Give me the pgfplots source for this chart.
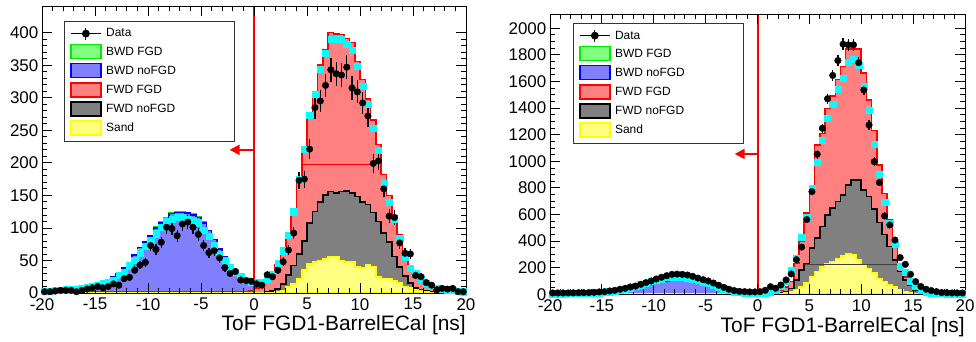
\documentclass[border=0pt]{standalone}
\usepackage{fontspec}
\setmainfont{Liberation Sans}
\usepackage{pgfplots}
\usepackage{pgfplotstable}
\pgfplotsset{compat=1.18}
\usetikzlibrary{arrows.meta}

\definecolor{fillred}{RGB}{255,128,128}
\definecolor{fillblue}{RGB}{128,128,255}
\definecolor{fillgreen}{RGB}{128,255,128}
\definecolor{fillgray}{RGB}{128,128,128}
\definecolor{fillyellow}{RGB}{255,255,128}
\definecolor{rootcyan}{RGB}{0,255,255}
\definecolor{rootgreen}{RGB}{0,235,0}
\definecolor{rootyellow}{RGB}{255,255,0}

% x = left bin edge; ys,yg,yr,yb,yt = stacked tops (Sand, FWD noFGD, FWD FGD, BWD noFGD, BWD FGD)
% cy = cyan markers, d = data, e = data error
\pgfplotstableread{
x ys yg yr yb yt cy d e
-20.0 1 1 2 3 3 3 2 1.4
-19.5 1 1 2 3 3 3 2 1.4
-19.0 1 1 2 4 4 4 3 1.7
-18.5 1 1 2 4 4 4 4 2
-18.0 1 1 2 5 5 5 4 2
-17.5 1 1 2 5 5 5 4 2
-17.0 1 1 2 6 6 6 2 1.4
-16.5 1 1 2 7 7 7 4 2
-16.0 1 1 2 8 8 9 6 2.4
-15.5 1 1 2 10 10 10 8 2.8
-15.0 1 1 2 13 13 12 10 3.2
-14.5 1 1 2 16 16 15 8 2.8
-14.0 1 1 2 19 19 17 10 3.2
-13.5 1 1 2 25 25 20 14 3.7
-13.0 1 1 2 30 30 27 12 3.5
-12.5 1 1 2 38 38 32 22 4.7
-12.0 1 1 2 47 47 42 24 4.9
-11.5 1 1 2 58 58 50 35 5.9
-11.0 1 1 2 70 70 62 43 6.6
-10.5 1 1 2 78 78 72 47 6.9
-10.0 1 1 2 88 88 81 73 8.5
-9.5 1 1 2 100 101 91 67 8.2
-9.0 1 1 2 108 109 101 78 8.8
-8.5 1 1 2 114 115 110 101 10
-8.0 1 1 2 122 123 114 99 9.9
-7.5 1 1 2 124 125 116 88 9.4
-7.0 1 1 2 124 125 117 106 10.3
-6.5 1 1 2 123 124 114 109 10.4
-6.0 1 1 2 120 121 112 101 10
-5.5 1 1 2 116 117 108 90 9.5
-5.0 1 1 2 108 109 97 73 8.5
-4.5 1 1 2 96 96 87 62 7.9
-4.0 1 1 2 82 82 74 65 8.1
-3.5 1 1 2 68 68 60 54 7.3
-3.0 1 1 2 56 56 50 39 6.2
-2.5 1 1 2 44 44 40 30 5.5
-2.0 1 1 2 33 33 32 33 5.7
-1.5 1 1 2 24 24 25 20 4.5
-1.0 1 1 2 17 17 20 19 4.4
-0.5 1 1 3 12 12 17 18 4.2
0.0 1 1 8 13 13 16 14 3.7
0.5 1 1 12 15 15 17 12 3.5
1.0 1 2 18 20 20 22 28 5.3
1.5 1 3 24 25 25 29 25 5
2.0 2 6 44 44 44 46 35 5.9
2.5 4 14 62 62 62 65 48 6.9
3.0 9 28 92 92 92 89 66 8.1
3.5 14 42 126 126 126 125 92 9.6
4.0 22 60 178 178 178 175 173 13.2
4.5 35 80 222 222 222 221 175 13.2
5.0 45 108 272 272 272 273 221 14.9
5.5 48 125 308 308 308 305 285 16.9
6.0 50 140 350 350 350 344 295 17.2
6.5 53 151 374 374 374 369 319 17.9
7.0 55 156 400 400 400 390 343 18.5
7.5 56 154 398 398 398 390 337 18.4
8.0 50 156 397 397 397 390 335 18.3
8.5 48 157 391 391 391 382 347 18.6
9.0 48 154 385 385 385 373 315 17.7
9.5 40 148 356 356 356 349 309 17.6
10.0 38 140 328 328 328 318 292 17.1
10.5 43 136 298 298 298 290 272 16.5
11.0 40 124 266 266 266 253 199 14.1
11.5 25 110 228 228 228 219 203 14.2
12.0 22 92 182 182 182 169 160 12.6
12.5 22 78 150 150 150 140 118 10.9
13.0 19 56 118 118 118 113 116 10.8
13.5 15 40 90 90 90 84 77 8.8
14.0 10 26 58 58 58 55 61 7.8
14.5 8 15 40 40 40 38 60 7.7
15.0 5 8 24 24 24 30 27 5.2
15.5 3 5 18 18 18 22 25 5
16.0 2 3 12 12 12 15 16 4
16.5 1 2 9 9 9 10 12 3.5
17.0 1 1 6 6 6 7 5 2.2
17.5 1 1 5 5 5 6 7 2.6
18.0 0 1 4 4 4 5 6 2.4
18.5 0 1 3 3 3 4 7 2.6
19.0 0 0 2 2 2 3 2 1.4
19.5 0 0 2 2 2 2 2 1.4
20.0 0 0 2 2 2 2 2 1.4
}\leftdata

\pgfplotstableread{
x ys yg yr yb yt cy d e
-20.0 1 2 3 4 4 5 10 3.2
-19.5 1 2 3 4 4 5 10 3.2
-19.0 1 2 3 4 4 5 10 3.2
-18.5 1 2 3 5 5 6 10 3.2
-18.0 1 2 3 5 5 6 11 3.3
-17.5 1 2 3 5 5 7 12 3.5
-17.0 1 2 3 6 6 8 12 3.5
-16.5 1 2 3 6 6 9 13 3.6
-16.0 1 2 3 7 7 10 15 3.9
-15.5 1 2 3 8 8 12 18 4.2
-15.0 1 2 4 10 10 15 20 4.5
-14.5 1 3 4 12 12 20 25 5
-14.0 1 3 4 15 15 25 30 5.5
-13.5 1 3 4 19 19 32 38 6.2
-13.0 1 3 4 24 25 40 45 6.7
-12.5 1 3 4 32 33 50 55 7.4
-12.0 1 3 4 41 42 60 62 7.9
-11.5 1 3 4 51 52 72 75 8.7
-11.0 1 3 4 62 63 85 88 9.4
-10.5 1 3 4 74 75 97 100 10
-10.0 1 3 4 85 86 108 115 10.7
-9.5 1 3 4 94 95 118 128 11.3
-9.0 1 3 4 102 103 126 140 11.8
-8.5 1 3 4 107 108 130 150 12.2
-8.0 1 3 4 108 109 132 152 12.3
-7.5 1 3 4 106 107 130 150 12.2
-7.0 1 3 4 100 101 125 145 12
-6.5 1 3 4 93 94 118 135 11.6
-6.0 1 3 4 83 84 108 122 11
-5.5 1 3 4 72 73 95 110 10.5
-5.0 1 3 4 58 59 82 100 10
-4.5 1 3 4 45 46 68 85 9.2
-4.0 1 3 4 32 33 55 68 8.2
-3.5 1 3 4 22 22 42 52 7.2
-3.0 1 3 4 14 14 30 38 6.2
-2.5 1 2 3 9 9 20 28 5.3
-2.0 1 2 3 6 6 14 22 4.7
-1.5 1 2 3 5 5 10 20 4.5
-1.0 1 2 3 4 4 8 18 4.2
-0.5 1 2 3 4 4 7 18 4.2
0.0 1 2 3 5 5 8 20 4.5
0.5 1 2 5 6 6 12 30 5.5
1.0 2 4 8 9 9 20 57 7.5
1.5 3 8 15 16 16 35 45 6.7
2.0 5 12 30 30 30 60 70 8.4
2.5 10 20 57 57 57 100 108 10.4
3.0 20 45 95 95 95 177 153 12.4
3.5 35 107 233 233 233 271 260 16.1
4.0 57 182 400 400 400 428 355 18.8
4.5 85 233 612 612 612 579 562 23.7
5.0 130 346 814 814 814 800 772 27.8
5.5 170 421 1122 1122 1122 992 1053 32.4
6.0 205 509 1208 1208 1208 1160 1248 35.3
6.5 230 596 1398 1398 1398 1323 1470 38.3
7.0 248 647 1490 1490 1490 1430 1645 40.6
7.5 270 697 1616 1616 1616 1541 1757 41.9
8.0 290 747 1711 1711 1711 1624 1880 43.4
8.5 305 822 1845 1845 1845 1745 1875 43.3
9.0 300 858 1845 1845 1845 1765 1875 43.3
9.5 258 858 1842 1842 1842 1724 1741 41.7
10.0 225 784 1662 1662 1662 1563 1536 39.2
10.5 195 734 1461 1461 1461 1386 1273 35.7
11.0 158 640 1230 1230 1230 1130 997 31.6
11.5 120 540 972 972 972 905 840 29
12.0 95 450 759 759 759 691 589 24.3
12.5 70 360 559 559 559 532 521 22.8
13.0 53 260 408 408 408 374 408 20.2
13.5 35 170 220 220 220 210 276 16.6
14.0 20 108 130 130 130 165 225 15
14.5 10 65 70 70 70 100 150 12.2
15.0 5 33 38 38 38 60 95 9.7
15.5 2 15 18 18 18 35 58 7.6
16.0 1 6 10 10 10 20 38 6.2
16.5 1 3 5 5 5 12 28 5.3
17.0 0 2 3 4 4 8 20 4.5
17.5 0 1 2 3 3 6 13 3.6
18.0 0 1 2 3 3 5 12 3.5
18.5 0 1 2 2 2 5 10 3.2
19.0 0 0 1 2 2 4 10 3.2
19.5 0 0 1 2 2 4 10 3.2
20.0 0 0 1 2 2 4 10 3.2
}\rightdata

\pgfplotsset{
  rootax/.style={
    scale only axis, xmin=-20, xmax=20, ymin=0,
    axis on top,
    xtick={-20,-15,...,20}, minor x tick num=4,
    tick align=inside, xtick pos=both, ytick pos=both,
    xticklabel pos=left, yticklabel pos=left,
    major tick length=10bp, minor tick length=5bp,
    every tick/.style={black, line width=0.8bp},
    axis line style={line width=0.9bp},
    ticklabel style={font=\fontsize{17}{17}\selectfont},
    /pgf/number format/assume math mode=true,
    /pgf/number format/1000 sep={},
    xticklabel style={inner sep=0pt, yshift=-5bp},
    yticklabel style={inner sep=0pt, xshift=-3.5bp},
    xlabel={ToF FGD1-BarrelECal [ns]},
    xlabel style={at={(axis description cs:1,0)}, anchor=north east, inner sep=0pt, yshift=-22bp, font=\fontsize{21}{21}\selectfont},
    legend cell align=left,
    legend style={anchor=north west, draw=black!80, line width=1.2bp, fill=white,
      font=\fontsize{12}{14}\selectfont, inner xsep=5.5bp, inner ysep=5.5bp,
      row sep=3.6bp, column sep=3bp, nodes={inner sep=1.5bp}},
  },
  hist/.style={const plot mark left, line width=1.6bp, forget plot},
  cyanmk/.style={only marks, mark=square*, mark size=3.1bp, color=rootcyan, forget plot, restrict x to domain=-20:19.9},
  datamk/.style={only marks, mark=*, mark size=3.3bp, black, forget plot, restrict x to domain=-20:19.9,
    error bars/.cd, y dir=both, y explicit, error mark=none, error bar style={line width=1.3bp, black}},
}

\newcommand{\rootlegend}{%
  \addlegendimage{legend image code/.code={
    \draw[black, line width=1.2bp] (0bp,0bp) -- (30bp,0bp);
    \draw[black, line width=1.2bp] (15bp,-6bp) -- (15bp,6bp);
    \fill[black] (15bp,0bp) circle (3.3bp);}}
  \addlegendentry{\makebox[121bp][l]{Data}}
  \addlegendimage{legend image code/.code={\draw[draw=rootgreen, fill=fillgreen, line width=1.5bp] (0bp,-7bp) rectangle (30bp,7bp);}}
  \addlegendentry{BWD FGD}
  \addlegendimage{legend image code/.code={\draw[draw=blue, fill=fillblue, line width=1.5bp] (0bp,-7bp) rectangle (30bp,7bp);}}
  \addlegendentry{BWD noFGD}
  \addlegendimage{legend image code/.code={\draw[draw=red, fill=fillred, line width=1.5bp] (0bp,-7bp) rectangle (30bp,7bp);}}
  \addlegendentry{FWD FGD}
  \addlegendimage{legend image code/.code={\draw[draw=black, fill=fillgray, line width=1.5bp] (0bp,-7bp) rectangle (30bp,7bp);}}
  \addlegendentry{FWD noFGD}
  \addlegendimage{legend image code/.code={\draw[draw=rootyellow, fill=fillyellow, line width=1.5bp] (0bp,-7bp) rectangle (30bp,7bp);}}
  \addlegendentry{Sand}
}

\begin{document}
\begin{tikzpicture}
\path[use as bounding box] (0,0) rectangle (976bp,342bp);

% ---------------- left panel ----------------
\begin{axis}[rootax, at={(42bp,49bp)}, anchor=south west,
  width=424bp, height=287bp, ymax=441,
  ytick={0,50,...,400}, minor y tick num=4,
  legend style={at={(0.052,0.948)}}]
\rootlegend
\addplot[hist, draw=rootgreen, fill=fillgreen] table[x=x, y=yt]{\leftdata} \closedcycle;
\addplot[hist, draw=blue, fill=fillblue] table[x=x, y=yb]{\leftdata} \closedcycle;
\addplot[hist, draw=red, fill=fillred] table[x=x, y=yr]{\leftdata} \closedcycle;
\addplot[hist, draw=black, fill=fillgray] table[x=x, y=yg]{\leftdata} \closedcycle;
\addplot[hist, draw=rootyellow, fill=fillyellow] table[x=x, y=ys]{\leftdata} \closedcycle;
\draw[red, line width=0.6bp] (axis cs:4.5,197) -- (axis cs:11,197);
\draw[red, line width=2bp] (axis cs:0,0) -- (axis cs:0,441);
\draw[red, line width=2bp, -{Triangle[length=10bp,width=10bp]}] (axis cs:0,220) -- (axis cs:-2.3,220);
\addplot[cyanmk] table[x expr=\thisrow{x}+0.25, y=cy]{\leftdata};
\addplot[datamk] table[x expr=\thisrow{x}+0.25, y=d, y error=e]{\leftdata};
\end{axis}

% ---------------- right panel ----------------
\begin{axis}[rootax, at={(550bp,47.7bp)}, anchor=south west,
  width=415bp, height=280.3bp, ymax=2107,
  ytick={0,200,...,2000}, minor y tick num=3,
  xlabel style={yshift=-1bp},
  legend style={at={(0.0554,0.968)}}]
\rootlegend
\addplot[hist, draw=rootgreen, fill=fillgreen] table[x=x, y=yt]{\rightdata} \closedcycle;
\addplot[hist, draw=blue, fill=fillblue] table[x=x, y=yb]{\rightdata} \closedcycle;
\addplot[hist, draw=red, fill=fillred] table[x=x, y=yr]{\rightdata} \closedcycle;
\addplot[hist, draw=black, fill=fillgray] table[x=x, y=yg]{\rightdata} \closedcycle;
\addplot[hist, draw=rootyellow, fill=fillyellow] table[x=x, y=ys]{\rightdata} \closedcycle;
\draw[black!75, line width=0.6bp] (axis cs:4.5,225) -- (axis cs:13.5,225);
\draw[red, line width=2bp] (axis cs:0,0) -- (axis cs:0,2107);
\draw[red, line width=2bp, -{Triangle[length=10bp,width=10bp]}] (axis cs:0,1055) -- (axis cs:-2.2,1055);
\addplot[cyanmk] table[x expr=\thisrow{x}+0.25, y=cy]{\rightdata};
\addplot[datamk] table[x expr=\thisrow{x}+0.25, y=d, y error=e]{\rightdata};
\end{axis}
\end{tikzpicture}
\end{document}
